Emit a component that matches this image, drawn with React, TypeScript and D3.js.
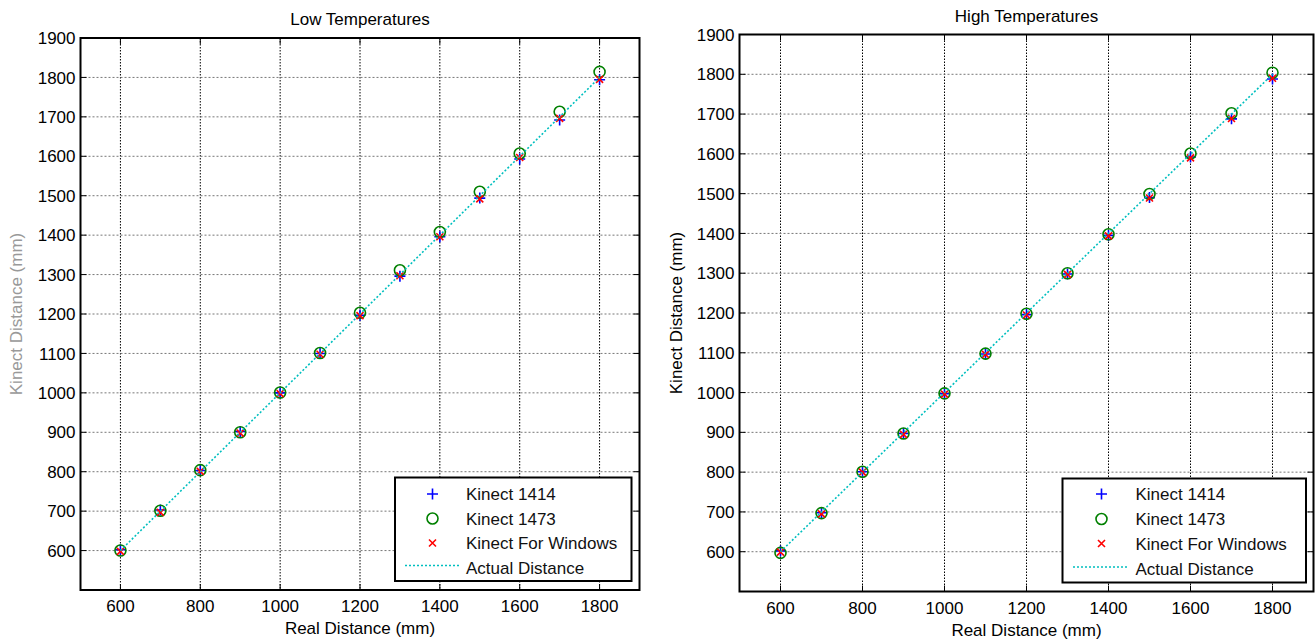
import React from "react";
import * as d3 from "d3";

const realDistance = [600, 700, 800, 900, 1000, 1100, 1200, 1300, 1400, 1500, 1600, 1700, 1800];
const xTicks = [600, 800, 1000, 1200, 1400, 1600, 1800];
const yTicks = [600, 700, 800, 900, 1000, 1100, 1200, 1300, 1400, 1500, 1600, 1700, 1800, 1900];
const seriesNames = ["Kinect 1414", "Kinect 1473", "Kinect For Windows", "Actual Distance"];

const lowK1414 = [602, 703, 803, 902, 1000, 1100, 1197, 1296, 1396, 1494, 1593, 1692, 1794];
const lowK1473 = [600, 701, 804, 900, 1001, 1101, 1203, 1311, 1408, 1510, 1607, 1713, 1814];
const lowKFW = [598, 697, 801, 898, 998, 1098, 1196, 1297, 1396, 1492, 1597, 1696, 1795];

const highK1414 = [602, 698, 801, 897, 997, 1097, 1196, 1298, 1395, 1490, 1592, 1688, 1788];
const highK1473 = [597, 697, 801, 897, 998, 1098, 1198, 1300, 1398, 1499, 1601, 1702, 1804];
const highKFW = [599, 695, 800, 895, 996, 1096, 1195, 1297, 1394, 1489, 1590, 1689, 1790];

const FONT = "'Liberation Sans', Arial, Helvetica, sans-serif";
const FS = 17;

type PanelProps = {
  title: string;
  left: number; right: number; top: number; bottom: number;
  titleY: number; xLabelY: number; yLabelX: number; yLabelColor: string;
  legend: { x0: number; x1: number; y0: number; y1: number; markX: number; textX: number; lineX0: number; lineX1: number; rowY: number[] };
  k1414: number[]; k1473: number[]; kfw: number[];
};

function Plus({ x, y }: { x: number; y: number }) {
  const s = 5.5;
  return <path d={`M${x - s},${y}H${x + s}M${x},${y - s}V${y + s}`} stroke="#0000ff" strokeWidth={1.6} fill="none" />;
}
function Cross({ x, y }: { x: number; y: number }) {
  const s = 3.5;
  return <path d={`M${x - s},${y - s}L${x + s},${y + s}M${x - s},${y + s}L${x + s},${y - s}`} stroke="#ff0000" strokeWidth={1.6} fill="none" />;
}
function Circ({ x, y }: { x: number; y: number }) {
  return <circle cx={x} cy={y} r={5.5} stroke="#008000" strokeWidth={1.6} fill="none" />;
}

function Panel(p: PanelProps) {
  const x = d3.scaleLinear().domain([500, 1900]).range([p.left, p.right]);
  const y = d3.scaleLinear().domain([500, 1900]).range([p.bottom, p.top]);
  const tl = 6;
  const line = d3.line<number>().x((d) => x(d)).y((d) => y(d));
  const L = p.legend;
  return (
    <g fontFamily={FONT} fontSize={FS} fill="#000">
      {/* grid */}
      {xTicks.map((t) => (
        <line key={"gx" + t} x1={x(t)} x2={x(t)} y1={p.top} y2={p.bottom} stroke="#000" strokeWidth={1} strokeDasharray="1.5,1.5" />
      ))}
      {yTicks.map((t) => (
        <line key={"gy" + t} x1={p.left} x2={p.right} y1={y(t)} y2={y(t)} stroke="#777" strokeWidth={1} strokeDasharray="2,2" />
      ))}
      {/* ticks */}
      {xTicks.map((t) => (
        <g key={"tx" + t}>
          <line x1={x(t)} x2={x(t)} y1={p.bottom} y2={p.bottom - tl} stroke="#000" strokeWidth={1} />
          <line x1={x(t)} x2={x(t)} y1={p.top} y2={p.top + tl} stroke="#000" strokeWidth={1} />
          <text x={x(t)} y={p.bottom + 22} textAnchor="middle">{t}</text>
        </g>
      ))}
      {yTicks.map((t) => (
        <g key={"ty" + t}>
          <line x1={p.left} x2={p.left + tl} y1={y(t)} y2={y(t)} stroke="#000" strokeWidth={1} />
          <line x1={p.right} x2={p.right - tl} y1={y(t)} y2={y(t)} stroke="#000" strokeWidth={1} />
          <text x={p.left - 5} y={y(t)} dy="0.36em" textAnchor="end">{t}</text>
        </g>
      ))}
      {/* data */}
      {realDistance.map((d, i) => <Plus key={"p" + i} x={x(d)} y={y(p.k1414[i])} />)}
      {realDistance.map((d, i) => <Circ key={"c" + i} x={x(d)} y={y(p.k1473[i])} />)}
      {realDistance.map((d, i) => <Cross key={"x" + i} x={x(d)} y={y(p.kfw[i])} />)}
      <path d={line(realDistance) || ""} stroke="#00bfbf" strokeWidth={1.6} strokeDasharray="2,2" fill="none" />
      {/* box */}
      <rect x={p.left} y={p.top} width={p.right - p.left} height={p.bottom - p.top} fill="none" stroke="#000" strokeWidth={2} />
      {/* legend */}
      <rect x={L.x0} y={L.y0} width={L.x1 - L.x0} height={L.y1 - L.y0} fill="#fff" stroke="#000" strokeWidth={2} />
      <Plus x={L.markX} y={L.rowY[0]} />
      <Circ x={L.markX} y={L.rowY[1]} />
      <Cross x={L.markX} y={L.rowY[2]} />
      <line x1={L.lineX0} x2={L.lineX1} y1={L.rowY[3] - 2} y2={L.rowY[3] - 2} stroke="#00bfbf" strokeWidth={1.6} strokeDasharray="2,2" />
      {seriesNames.map((n, i) => (
        <text key={n} x={L.textX} y={L.rowY[i]} dy="0.36em" fill="#111">{n}</text>
      ))}
      {/* labels */}
      <text x={(p.left + p.right) / 2} y={p.titleY} textAnchor="middle">{p.title}</text>
      <text x={(p.left + p.right) / 2} y={p.xLabelY} textAnchor="middle">Real Distance (mm)</text>
      <text transform={`translate(${p.yLabelX},${(p.top + p.bottom) / 2}) rotate(-90)`} textAnchor="middle" dy="0.36em" fill={p.yLabelColor}>Kinect Distance (mm)</text>
    </g>
  );
}

export default function App() {
  return (
    <svg width={1315} height={639} style={{ position: "absolute", left: 0, top: 0, background: "#fff" }}>
      <rect width={1315} height={639} fill="#fff" />
      <Panel
        title="Low Temperatures"
        left={80.5} right={639.5} top={38} bottom={590}
        titleY={25} xLabelY={634} yLabelX={16} yLabelColor="#999"
        legend={{ x0: 395, x1: 631.5, y0: 477.5, y1: 581, markX: 432.5, textX: 466, lineX0: 405, lineX1: 460, rowY: [494, 518.5, 543, 567.5] }}
        k1414={lowK1414} k1473={lowK1473} kfw={lowKFW}
      />
      <Panel
        title="High Temperatures"
        left={739.5} right={1313.5} top={34.5} bottom={591.5}
        titleY={22} xLabelY={636} yLabelX={676} yLabelColor="#000"
        legend={{ x0: 1062.5, x1: 1306, y0: 478.5, y1: 582.5, markX: 1101.5, textX: 1135.5, lineX0: 1073, lineX1: 1129, rowY: [494, 519, 543.5, 569] }}
        k1414={highK1414} k1473={highK1473} kfw={highKFW}
      />
    </svg>
  );
}
